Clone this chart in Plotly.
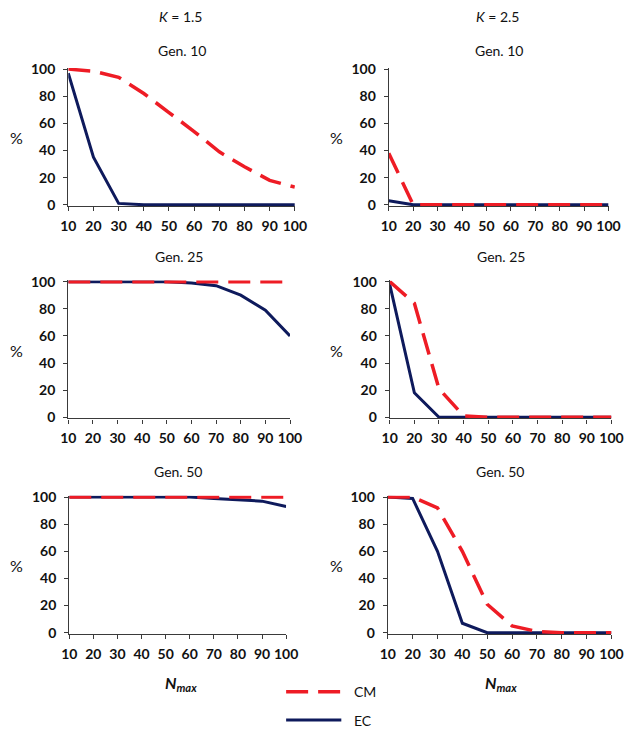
import plotly.graph_objects as go

# browser page has an 8px body margin: figure drawn at (8, 8) in the screenshot
OFF = 8
W, H = 637 - OFF, 733 - OFF

n_max = [10, 20, 30, 40, 50, 60, 70, 80, 90, 100]
x_ticks = [10, 20, 30, 40, 50, 60, 70, 80, 90, 100]
y_ticks = [0, 20, 40, 60, 80, 100]

# K = 1.5
cm_k15_g10 = [100, 98.5, 94, 82, 68, 54, 39, 28, 18, 13]
ec_k15_g10 = [97, 35, 1, 0, 0, 0, 0, 0, 0, 0]
cm_k15_g25 = [100, 100, 100, 100, 100, 100, 100, 100, 100, 100]
ec_k15_g25 = [100, 100, 100, 100, 100, 99, 97, 90, 79, 60]
cm_k15_g50 = [100, 100, 100, 100, 100, 100, 100, 100, 100, 100]
ec_k15_g50 = [100, 100, 100, 100, 100, 100, 99, 98, 97, 93]

# K = 2.5
cm_k25_g10 = [38, 0, 0, 0, 0, 0, 0, 0, 0, 0]
ec_k25_g10 = [3, 0, 0, 0, 0, 0, 0, 0, 0, 0]
cm_k25_g25 = [100, 84, 21, 1, 0, 0, 0, 0, 0, 0]
ec_k25_g25 = [98, 18, 0, 0, 0, 0, 0, 0, 0, 0]
cm_k25_g50 = [100, 100, 92, 60, 21, 5, 1, 0, 0, 0]
ec_k25_g50 = [100, 99, 60, 7, 0, 0, 0, 0, 0, 0]

panel_titles = ["Gen. 10", "Gen. 10", "Gen. 25", "Gen. 25", "Gen. 50", "Gen. 50"]
column_titles = ["<i>K</i> = 1.5", "<i>K</i> = 2.5"]
series_names = ["CM", "EC"]

CM_COLOR = "#EE1C25"
EC_COLOR = "#0E1A5C"
AX_COLOR = "#3a3a3a"
FONT = "Lato"
TXT = "#111111"


def fx(px):
    return (px - OFF) / W


def fy(py):
    return 1 - (py - OFF) / H


# panel boxes in screenshot pixels: (x0, x1, y_top, y_bottom)
boxes = [
    (62, 296, 61, 202), (393, 620, 61, 202),
    (62, 291, 278, 419), (394, 623, 278, 419),
    (63, 287, 498, 639), (392, 623, 498, 639),
]
title_ys = [43, 43, 254, 254, 473, 473]
data = [
    (cm_k15_g10, ec_k15_g10), (cm_k25_g10, ec_k25_g10),
    (cm_k15_g25, ec_k15_g25), (cm_k25_g25, ec_k25_g25),
    (cm_k15_g50, ec_k15_g50), (cm_k25_g50, ec_k25_g50),
]

fig = go.Figure()
layout = dict(
    width=W, height=H, margin=dict(l=0, r=0, t=0, b=0),
    paper_bgcolor="white", plot_bgcolor="white", showlegend=False,
    font=dict(family=FONT, color=TXT, size=14),
)
annotations = []
shapes = []

tick_font = dict(family=FONT, size=14, color=TXT, weight="bold")

for i, ((x0, x1, yt, yb), (cm, ec)) in enumerate(zip(boxes, data)):
    k = i + 1
    xa = "xaxis" if k == 1 else f"xaxis{k}"
    ya = "yaxis" if k == 1 else f"yaxis{k}"
    xr = "x" if k == 1 else f"x{k}"
    yr = "y" if k == 1 else f"y{k}"
    layout[xa] = dict(
        domain=[fx(x0), fx(x1)], anchor=yr, range=[10, 100],
        tickvals=x_ticks, ticktext=[str(v) for v in x_ticks],
        showgrid=False, zeroline=False, showline=True, linecolor=AX_COLOR, linewidth=1.3,
        ticks="outside", ticklen=4, tickcolor=AX_COLOR, tickwidth=1.3,
        tickfont=tick_font, ticklabelstandoff=3,
        fixedrange=True,
    )
    layout[ya] = dict(
        domain=[fy(yb), fy(yt)], anchor=xr, range=[-0.9, 100.9],
        tickvals=y_ticks, ticktext=[str(v) for v in y_ticks],
        showgrid=False, zeroline=False, showline=True, linecolor=AX_COLOR, linewidth=1.3,
        ticks="outside", ticklen=4, tickcolor=AX_COLOR, tickwidth=1.3,
        tickfont=tick_font, ticklabelstandoff=5,
        fixedrange=True,
    )
    fig.add_trace(go.Scatter(
        x=n_max, y=ec, mode="lines", name=series_names[1],
        line=dict(color=EC_COLOR, width=3), xaxis=xr, yaxis=yr,
    ))
    fig.add_trace(go.Scatter(
        x=n_max, y=cm, mode="lines", name=series_names[0],
        line=dict(color=CM_COLOR, width=3.5, dash="22px,10px"), xaxis=xr, yaxis=yr,
    ))
    cx = (x0 + x1) / 2
    annotations.append(dict(
        text=panel_titles[i], x=fx(cx), y=fy(title_ys[i]), xref="paper", yref="paper",
        showarrow=False, font=dict(family=FONT, size=14, color=TXT),
        xanchor="center", yanchor="middle",
    ))
    pct_x = 9 if i % 2 == 0 else 339
    annotations.append(dict(
        text="%", x=fx(pct_x), y=fy((yt + yb) / 2 + 1), xref="paper", yref="paper",
        showarrow=False, font=dict(family=FONT, size=16, color=TXT),
        xanchor="center", yanchor="middle",
    ))

# column headers
for txt, px in zip(column_titles, [178, 506]):
    annotations.append(dict(
        text=txt, x=fx(px), y=fy(9), xref="paper", yref="paper",
        showarrow=False, font=dict(family=FONT, size=14, color=TXT),
        xanchor="center", yanchor="middle",
    ))

# x-axis titles
for px in [178, 509]:
    annotations.append(dict(
        text="<i>N</i><sub><i>max</i></sub>", x=fx(px), y=fy(690),
        xref="paper", yref="paper", showarrow=False,
        font=dict(family=FONT, size=16, color=TXT, weight="bold"),
        xanchor="center", yanchor="middle",
    ))

# legend
legend_items = [(series_names[0], CM_COLOR, 3.5, "22px,10px", 698),
                (series_names[1], EC_COLOR, 3, "solid", 727)]
for name, col, w, dash, py in legend_items:
    shapes.append(dict(
        type="line", xref="paper", yref="paper",
        x0=fx(287), x1=fx(344), y0=fy(py), y1=fy(py),
        line=dict(color=col, width=w, dash=dash),
    ))
    annotations.append(dict(
        text=name, x=fx(355), y=fy(py), xref="paper", yref="paper",
        showarrow=False, font=dict(family=FONT, size=14, color=TXT),
        xanchor="left", yanchor="middle",
    ))

layout["annotations"] = annotations
layout["shapes"] = shapes
fig.update_layout(**layout)
fig.write_html("out.html")
